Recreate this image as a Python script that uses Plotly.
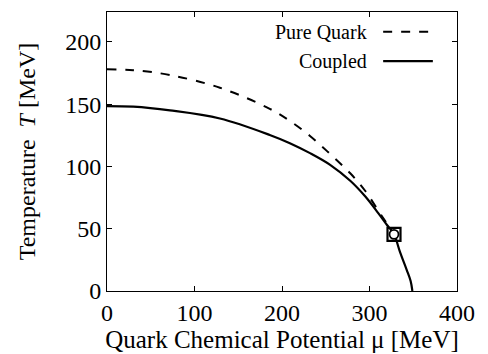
import plotly.graph_objects as go

# Pure quark phase boundary (dashed)
pure_mu = [0, 30, 72, 129, 186, 209, 232, 255, 278, 295, 310, 320, 328]
pure_T = [178, 177.3, 173.4, 163.2, 146.3, 136.5, 124.5, 110, 94.5, 80.5, 64.5, 54, 45.5]

# Coupled phase boundary (solid)
coup_mu = [0, 30, 72, 129, 186, 209, 232, 255, 278, 295, 310, 320, 328, 335, 342.5, 347, 349]
coup_T = [148.5, 148, 145, 138.5, 125.3, 118.7, 110.7, 101.3, 88.5, 76, 62.5, 53, 45.5, 31, 17, 8, 0]

# Critical end points
cep_pure_mu = [328]
cep_pure_T = [45.5]
cep_coup_mu = [328]
cep_coup_T = [45.5]

x_ticks = [0, 100, 200, 300, 400]
y_ticks = [0, 50, 100, 150, 200]

FONT = "Liberation Serif, Times New Roman, Times, serif"

fig = go.Figure()
fig.add_trace(go.Scatter(x=pure_mu, y=pure_T, mode="lines", name="Pure Quark",
                         line=dict(color="black", width=2, dash="dash", shape="spline", smoothing=1),
                         showlegend=False))
fig.add_trace(go.Scatter(x=coup_mu, y=coup_T, mode="lines", name="Coupled",
                         line=dict(color="black", width=2.2, shape="spline", smoothing=1),
                         showlegend=False))
fig.add_trace(go.Scatter(x=cep_pure_mu, y=cep_pure_T, mode="markers",
                         marker=dict(symbol="square-open", size=13, color="black", line=dict(width=2.2)),
                         showlegend=False))
fig.add_trace(go.Scatter(x=cep_coup_mu, y=cep_coup_T, mode="markers",
                         marker=dict(symbol="circle", size=9, color="white", line=dict(width=1.8, color="black")),
                         showlegend=False))

# manual legend (text left of the line sample)
leg = [("Pure Quark", "dash", 0.929), ("Coupled", "solid", 0.824)]
for label, dash, yp in leg:
    fig.add_annotation(x=0.749, y=yp, xref="paper", yref="paper", text=label,
                       showarrow=False, xanchor="right", yanchor="middle",
                       font=dict(family=FONT, size=20, color="black"))
    fig.add_shape(type="line", xref="paper", yref="paper", x0=0.789, x1=0.931, y0=yp, y1=yp,
                  line=dict(color="black", width=2 if dash != "solid" else 2.2, dash=dash))

axis_common = dict(showline=True, linecolor="black", linewidth=1, mirror="allticks",
                   ticks="inside", ticklen=5, tickcolor="black", tickwidth=1,
                   showgrid=False, zeroline=False, automargin=False,
                   tickfont=dict(family=FONT, size=24, color="black"))

fig.update_xaxes(range=[0, 400], tickvals=x_ticks,
                 title=dict(text="Quark Chemical Potential μ [MeV]",
                            font=dict(family=FONT, size=25, color="black"), standoff=4),
                 **axis_common)
fig.update_yaxes(range=[0, 224], tickvals=y_ticks,
                 title=dict(text="Temperature  <i>T</i> [MeV]",
                            font=dict(family=FONT, size=24, color="black"), standoff=22),
                 **axis_common)

fig.update_layout(width=488, height=354, margin=dict(l=107, r=31, t=12, b=63, autoexpand=False),
                  plot_bgcolor="white", paper_bgcolor="white", showlegend=False,
                  font=dict(family=FONT))

fig.write_html("out.html")
